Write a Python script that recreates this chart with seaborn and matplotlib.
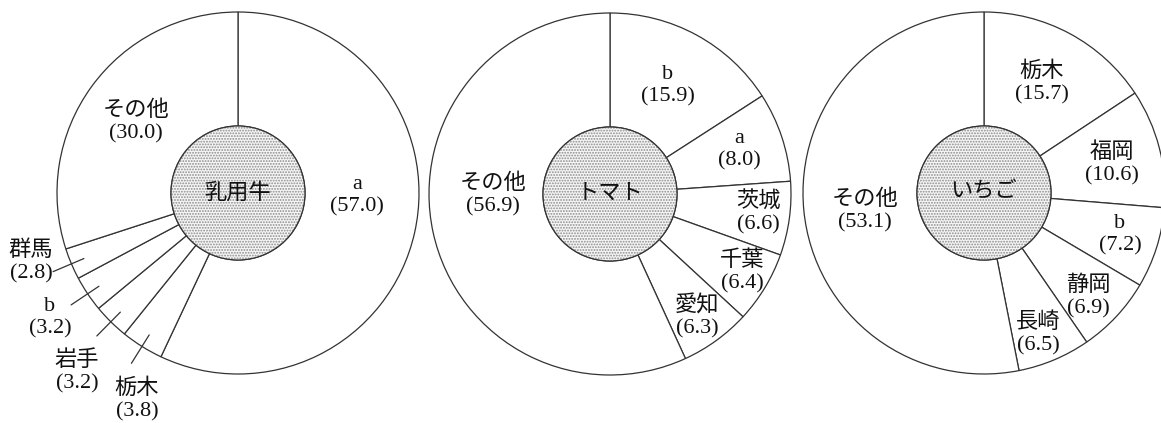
import numpy as np
import matplotlib
matplotlib.use("Agg")
import matplotlib.pyplot as plt
import seaborn as sns
from matplotlib.patches import Circle

# ---------------- data ----------------
titles = ["乳用牛", "トマト", "いちご"]
dairy_labels = ["a", "栃木", "岩手", "b", "群馬", "その他"]
dairy_values = [57.0, 3.8, 3.2, 3.2, 2.8, 30.0]
tomato_labels = ["b", "a", "茨城", "千葉", "愛知", "その他"]
tomato_values = [15.9, 8.0, 6.6, 6.4, 6.3, 56.9]
straw_labels = ["栃木", "福岡", "b", "静岡", "長崎", "その他"]
straw_values = [15.7, 10.6, 7.2, 6.9, 6.5, 53.1]

# ---------------- layout ----------------
W, H = 1161, 423
centers = [(238, 230), (610, 229), (984, 230)]
R_OUT, R_IN = 181, 67
# label offsets from pie centre (pixels; +y downward as in the image)
label_offsets = [
    [(119, 3), (-101, 207), (-161, 179), (-188, 125), (-207, 69), (-102, -71)],
    [(58, -108), (129, -44), (148, 19), (132, 78), (87, 123), (-117, 1)],
    [(58, -110), (128, -29), (136, 42), (104, 104), (54, 141), (-119, 18)],
]
# which labels sit outside with a leader line
outside = [[1, 2, 3, 4], [], []]

sns.set_theme(style="white")
plt.rcParams["font.family"] = ["Liberation Serif", "Noto Sans CJK JP", "DejaVu Sans"]
plt.rcParams["hatch.linewidth"] = 0.9

EDGE = "#333333"
fig = plt.figure(figsize=(W / 100, H / 100), dpi=100)
ax = fig.add_axes([0, 0, 1, 1])

series = [(dairy_labels, dairy_values), (tomato_labels, tomato_values),
          (straw_labels, straw_values)]

for k, ((labels, values), c, title) in enumerate(zip(series, centers, titles)):
    ax.pie(values, radius=R_OUT, center=c, startangle=90, counterclock=False,
           colors=["white"] * len(values),
           wedgeprops=dict(width=R_OUT - R_IN, edgecolor=EDGE, linewidth=0.9))
    # stippled centre
    ax.add_patch(Circle(c, R_IN, facecolor="#f6f6f6", edgecolor="#8c8c8c",
                        hatch="......", linewidth=0, zorder=3))
    ax.add_patch(Circle(c, R_IN, facecolor="none", edgecolor=EDGE,
                        linewidth=0.9, zorder=4))
    ax.text(c[0], c[1], title, ha="center", va="center", fontsize=16,
            color="#111", zorder=5)

    total = float(np.sum(values))
    cum = np.cumsum([0.0] + list(values))
    for i, (lab, v) in enumerate(zip(labels, values)):
        dx, dy = label_offsets[k][i]
        ax.text(c[0] + dx, c[1] - dy, f"{lab}\n({v:.1f})", ha="center",
                va="center", fontsize=16, linespacing=1.2, color="#111",
                zorder=5)
        if i in outside[k]:
            mid = (cum[i] + cum[i + 1]) / 2.0 / total
            ang = np.deg2rad(90 - 360 * mid)
            r0, r1 = 0.925 * R_OUT, 1.11 * R_OUT
            ax.plot([c[0] + r0 * np.cos(ang), c[0] + r1 * np.cos(ang)],
                    [c[1] + r0 * np.sin(ang), c[1] + r1 * np.sin(ang)],
                    color=EDGE, lw=0.9, zorder=5)

ax.set_xlim(0, W)
ax.set_ylim(0, H)
ax.set_aspect("auto")
ax.axis("off")
fig.savefig("out.png", dpi=100, facecolor="white")
